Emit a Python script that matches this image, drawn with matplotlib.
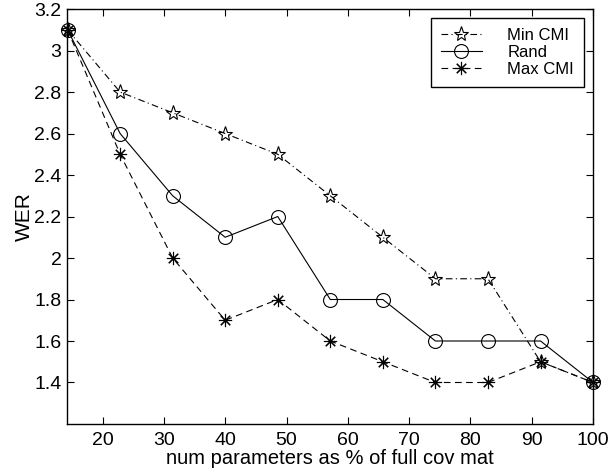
import matplotlib.pyplot as plt

plt.rcParams['font.family'] = ['Liberation Sans', 'DejaVu Sans']

pct = [14.29, 22.86, 31.43, 40.0, 48.57, 57.14, 65.71, 74.29, 82.86, 91.43, 100.0]
min_cmi = [3.1, 2.8, 2.7, 2.6, 2.5, 2.3, 2.1, 1.9, 1.9, 1.5, 1.4]
rand = [3.1, 2.6, 2.3, 2.1, 2.2, 1.8, 1.8, 1.6, 1.6, 1.6, 1.4]
max_cmi = [3.1, 2.5, 2.0, 1.7, 1.8, 1.6, 1.5, 1.4, 1.4, 1.5, 1.4]

fig = plt.figure(figsize=(6.16, 4.71), dpi=100)
ax = fig.add_axes([0.1088, 0.0998, 0.854, 0.881])

lw = 0.8
ax.plot(pct, min_cmi, color='black', linestyle=(0, (6, 3, 1, 3)), linewidth=lw,
        marker='*', markersize=11, markerfacecolor='none', markeredgewidth=0.8,
        label='Min CMI', clip_on=False)
ax.plot(pct, rand, color='black', linestyle='-', linewidth=lw,
        marker='o', markersize=10, markerfacecolor='none', markeredgewidth=0.8,
        label='Rand', clip_on=False)
ax.plot(pct, max_cmi, color='black', linestyle=(0, (6, 4)), linewidth=lw,
        marker=(8, 2, 0), markersize=9.5, markeredgewidth=0.8,
        label='Max CMI', clip_on=False)

ax.set_xlim(14.2, 100)
ax.set_ylim(1.2, 3.2)
ax.set_xticks([20, 30, 40, 50, 60, 70, 80, 90, 100])
ax.set_yticks([1.4, 1.6, 1.8, 2.0, 2.2, 2.4, 2.6, 2.8, 3.0, 3.2])
ax.set_yticklabels(['1.4', '1.6', '1.8', '2', '2.2', '2.4', '2.6', '2.8', '3', '3.2'])
ax.tick_params(direction='in', top=True, right=True, length=5, width=0.8,
               labelsize=14, pad=4)
ax.tick_params(axis='x', pad=6)
for s in ax.spines.values():
    s.set_linewidth(1.0)

ax.set_xlabel('num parameters as % of full cov mat', fontsize=14.5, labelpad=0)
ax.set_ylabel('WER', fontsize=15, labelpad=0)

leg = ax.legend(loc='upper right', fontsize=12, frameon=True, fancybox=False,
                edgecolor='black', framealpha=1, handlelength=2.5,
                labelspacing=0.1, borderaxespad=0.55, handletextpad=1.5,
                borderpad=0.6)
leg.get_frame().set_linewidth(1.0)

fig.savefig('out.png', dpi=100)
